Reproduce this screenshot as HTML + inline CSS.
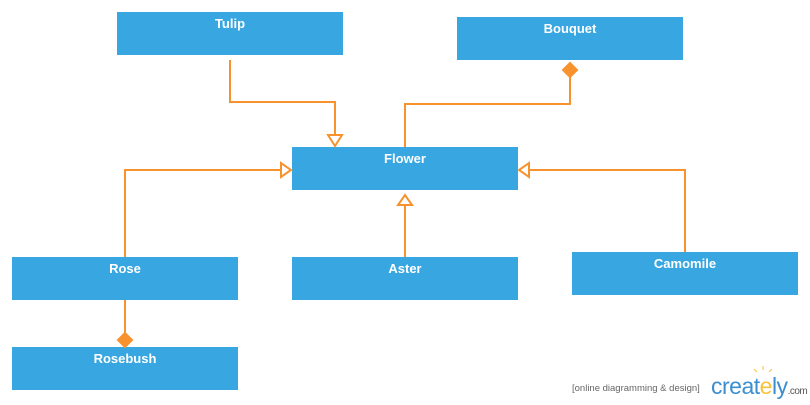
<!DOCTYPE html>
<html><head><style>
body{margin:0;width:810px;height:405px;background:#fff;overflow:hidden;position:relative;font-family:"Liberation Sans",sans-serif}
.b{position:absolute;width:226px;height:43px;background:#37a6e1;color:#fff;font-weight:bold;font-size:13px;text-align:center;line-height:24px}
svg{position:absolute;left:0;top:0}
</style></head><body>
<div class="b" style="left:117px;top:12px">Tulip</div>
<div class="b" style="left:457px;top:17px">Bouquet</div>
<div class="b" style="left:292px;top:147px">Flower</div>
<div class="b" style="left:12px;top:257px">Rose</div>
<div class="b" style="left:292px;top:257px">Aster</div>
<div class="b" style="left:572px;top:252px">Camomile</div>
<div class="b" style="left:12px;top:347px">Rosebush</div>
<svg width="810" height="405" fill="none" stroke="#f7922d" stroke-width="2">
<polyline points="230,60 230,102 335,102 335,135"/>
<polygon points="328,135 342,135 335,146" fill="#fff"/>
<polyline points="405,147 405,104 570,104 570,77"/>
<polygon points="570,63 577,70 570,77 563,70" fill="#f7922d"/>
<polyline points="125,257 125,170 281,170"/>
<polygon points="281,163 281,177 291,170" fill="#fff"/>
<line x1="405" y1="257" x2="405" y2="205"/>
<polygon points="398,205 412,205 405,195" fill="#fff"/>
<polyline points="685,252 685,170 529,170"/>
<polygon points="529,163 529,177 519,170" fill="#fff"/>
<line x1="125" y1="300" x2="125" y2="333"/>
<polygon points="125,333 132,340 125,347 118,340" fill="#f7922d"/>
<g stroke="#f9c23c" stroke-width="1"><line x1="763" y1="370" x2="763" y2="366"/><line x1="757" y1="372" x2="754" y2="369"/><line x1="769" y1="372" x2="772" y2="369"/></g>
</svg>
<div style="position:absolute;left:572px;top:383px;font-size:9.5px;color:#666">[online diagramming &amp; design]</div>
<div style="position:absolute;left:711px;top:373px;font-size:23px;color:#3b8fd0;letter-spacing:-0.5px">creat<span style="color:#f9c23c">e</span>ly<span style="font-size:10px;color:#555">.com</span></div>
</body></html>
